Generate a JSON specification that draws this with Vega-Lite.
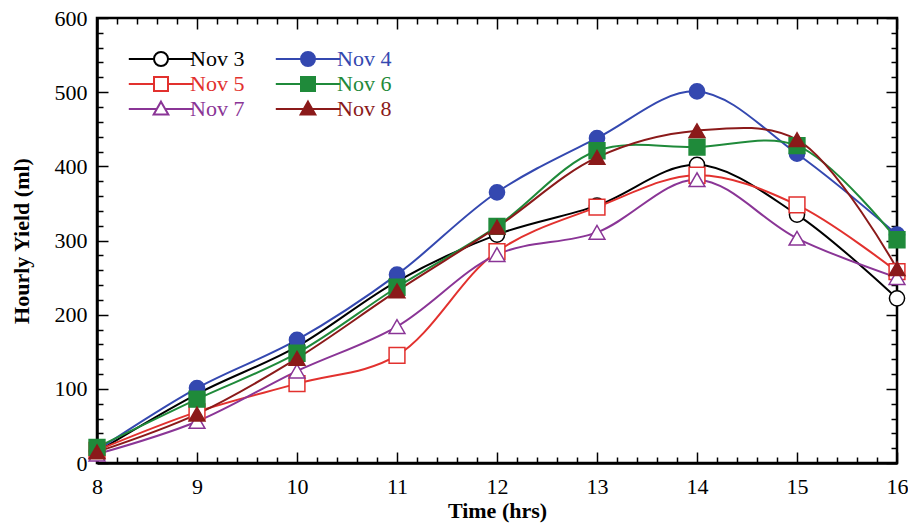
{
  "$schema": "https://vega.github.io/schema/vega-lite/v6.json",
  "width": 800,
  "height": 445,
  "autosize": {"type": "none"},
  "padding": {"left": 97, "top": 18, "right": 11, "bottom": 62},
  "background": "white",
  "config": {
    "view": {"stroke": "black", "strokeWidth": 2.5},
    "font": "Liberation Serif",
    "axis": {"grid": false, "domainColor": "black", "domainWidth": 2.5, "tickColor": "black", "tickWidth": 1.5, "labelFont": "Liberation Serif", "labelFontSize": 22, "labelColor": "black", "titleFont": "Liberation Serif", "titleFontSize": 22, "titleFontWeight": "bold", "titleColor": "black", "labelFlush": false, "labelOverlap": false},
    "legend": {"orient": "none", "direction": "horizontal", "legendX": 53, "legendY": 30, "columns": 2, "symbolSize": 196, "symbolStrokeWidth": 2, "labelFont": "Liberation Serif", "labelFontSize": 22, "labelOffset": 18, "columnPadding": 26, "rowPadding": 2, "gridAlign": "all", "padding": 0}
  },
  "data": {"values": [
    {"t": 8, "y": 15, "s": "Nov 3"}, {"t": 9, "y": 93, "s": "Nov 3"}, {"t": 10, "y": 157, "s": "Nov 3"}, {"t": 11, "y": 245, "s": "Nov 3"}, {"t": 12, "y": 308, "s": "Nov 3"}, {"t": 13, "y": 347, "s": "Nov 3"}, {"t": 14, "y": 402, "s": "Nov 3"}, {"t": 15, "y": 335, "s": "Nov 3"}, {"t": 16, "y": 222, "s": "Nov 3"},
    {"t": 8, "y": 17, "s": "Nov 4"}, {"t": 9, "y": 101, "s": "Nov 4"}, {"t": 10, "y": 166, "s": "Nov 4"}, {"t": 11, "y": 254, "s": "Nov 4"}, {"t": 12, "y": 365, "s": "Nov 4"}, {"t": 13, "y": 438, "s": "Nov 4"}, {"t": 14, "y": 501, "s": "Nov 4"}, {"t": 15, "y": 417, "s": "Nov 4"}, {"t": 16, "y": 308, "s": "Nov 4"},
    {"t": 8, "y": 17, "s": "Nov 5"}, {"t": 9, "y": 69, "s": "Nov 5"}, {"t": 10, "y": 107, "s": "Nov 5"}, {"t": 11, "y": 145, "s": "Nov 5"}, {"t": 12, "y": 285, "s": "Nov 5"}, {"t": 13, "y": 345, "s": "Nov 5"}, {"t": 14, "y": 388, "s": "Nov 5"}, {"t": 15, "y": 348, "s": "Nov 5"}, {"t": 16, "y": 258, "s": "Nov 5"},
    {"t": 8, "y": 21, "s": "Nov 6"}, {"t": 9, "y": 86, "s": "Nov 6"}, {"t": 10, "y": 148, "s": "Nov 6"}, {"t": 11, "y": 237, "s": "Nov 6"}, {"t": 12, "y": 319, "s": "Nov 6"}, {"t": 13, "y": 421, "s": "Nov 6"}, {"t": 14, "y": 426, "s": "Nov 6"}, {"t": 15, "y": 428, "s": "Nov 6"}, {"t": 16, "y": 301, "s": "Nov 6"},
    {"t": 8, "y": 12, "s": "Nov 7"}, {"t": 9, "y": 56, "s": "Nov 7"}, {"t": 10, "y": 124, "s": "Nov 7"}, {"t": 11, "y": 184, "s": "Nov 7"}, {"t": 12, "y": 281, "s": "Nov 7"}, {"t": 13, "y": 311, "s": "Nov 7"}, {"t": 14, "y": 382, "s": "Nov 7"}, {"t": 15, "y": 303, "s": "Nov 7"}, {"t": 16, "y": 250, "s": "Nov 7"},
    {"t": 8, "y": 15, "s": "Nov 8"}, {"t": 9, "y": 66, "s": "Nov 8"}, {"t": 10, "y": 141, "s": "Nov 8"}, {"t": 11, "y": 232, "s": "Nov 8"}, {"t": 12, "y": 318, "s": "Nov 8"}, {"t": 13, "y": 412, "s": "Nov 8"}, {"t": 14, "y": 448, "s": "Nov 8"}, {"t": 15, "y": 436, "s": "Nov 8"}, {"t": 16, "y": 262, "s": "Nov 8"}
  ]},
  "resolve": {"axis": {"x": "independent", "y": "independent"}},
  "layer": [
    {
      "mark": {"type": "line", "interpolate": "catmull-rom", "strokeWidth": 2},
      "encoding": {
        "x": {"field": "t", "type": "quantitative", "scale": {"domain": [8, 16], "nice": false, "zero": false},
          "axis": {"orient": "bottom", "title": "Time (hrs)", "labelOverlap": false, "values": [8, 9, 10, 11, 12, 13, 14, 15, 16],
            "tickSize": -11, "labelPadding": 24, "titlePadding": 3}},
        "y": {"field": "y", "type": "quantitative", "scale": {"domain": [0, 600], "nice": false},
          "axis": {"orient": "left", "title": "Hourly Yield (ml)", "labelOverlap": false, "values": [0, 100, 200, 300, 400, 500, 600],
            "tickSize": -11, "labelPadding": 21, "titlePadding": 21}},
        "stroke": {"field": "s", "type": "nominal",
          "scale": {"domain": ["Nov 3", "Nov 4", "Nov 5", "Nov 6", "Nov 7", "Nov 8"], "range": ["#000000", "#3448b0", "#e2312e", "#1f8a3a", "#8a3596", "#8b1a1a"]},
          "legend": {"title": null,
            "encode": {
              "symbols": {"update": {"shape": {"signal": "indexof(['Nov 3','Nov 4'], datum.value) >= 0 ? 'M-4.6,0H-1M1,0H4.6M-1,0A1,1,0,1,1,1,0A1,1,0,1,1,-1,0Z' : indexof(['Nov 5','Nov 6'], datum.value) >= 0 ? 'M-4.6,0H-1M1,0H4.6M-1,-1H1V1H-1Z' : 'M-4.6,0H-0.55M0.55,0H4.6M0,-1.05L1.05,0.8H-1.05Z'"}, "strokeWidth": {"value": 2}}},
              "labels": {"update": {"fill": {"signal": "scale('stroke', datum.value)"}}}
            }}}
      }
    },
    {
      "transform": [{"filter": {"field": "s", "oneOf": ["Nov 3", "Nov 4"]}}],
      "mark": {"type": "point", "shape": "circle", "filled": false, "size": 230, "strokeWidth": 1.5, "opacity": 1},
      "encoding": {
        "x": {"field": "t", "type": "quantitative",
          "axis": {"orient": "top", "title": null, "labels": false, "domain": false, "values": [8, 9, 10, 11, 12, 13, 14, 15, 16], "tickSize": -11}},
        "y": {"field": "y", "type": "quantitative",
          "axis": {"orient": "right", "title": null, "labels": false, "domain": false, "values": [0, 100, 200, 300, 400, 500, 600], "tickSize": -11}},
        "stroke": {"field": "s", "type": "nominal", "legend": {"title": null}},
        "fill": {"field": "s", "type": "nominal",
          "scale": {"domain": ["Nov 3", "Nov 4", "Nov 5", "Nov 6", "Nov 7", "Nov 8"], "range": ["#ffffff", "#3448b0", "#ffffff", "#1f8a3a", "#ffffff", "#8b1a1a"]},
          "legend": {"title": null}}
      }
    },
    {
      "transform": [{"filter": {"field": "s", "oneOf": ["Nov 5", "Nov 6"]}}],
      "mark": {"type": "point", "shape": "square", "filled": false, "size": 250, "strokeWidth": 1.5, "opacity": 1},
      "encoding": {
        "x": {"field": "t", "type": "quantitative",
          "axis": {"orient": "bottom", "title": null, "labels": false, "domain": false, "tickSize": -6, "values": [8.2, 8.4, 8.6, 8.8, 9.2, 9.4, 9.6, 9.8, 10.2, 10.4, 10.6, 10.8, 11.2, 11.4, 11.6, 11.8, 12.2, 12.4, 12.6, 12.8, 13.2, 13.4, 13.6, 13.8, 14.2, 14.4, 14.6, 14.8, 15.2, 15.4, 15.6, 15.8]}},
        "y": {"field": "y", "type": "quantitative",
          "axis": {"orient": "left", "title": null, "labels": false, "domain": false, "tickSize": -6, "values": [20, 40, 60, 80, 120, 140, 160, 180, 220, 240, 260, 280, 320, 340, 360, 380, 420, 440, 460, 480, 520, 540, 560, 580]}},
        "stroke": {"field": "s", "type": "nominal", "legend": {"title": null}},
        "fill": {"field": "s", "type": "nominal", "legend": {"title": null}}
      }
    },
    {
      "transform": [{"filter": {"field": "s", "oneOf": ["Nov 7", "Nov 8"]}}],
      "mark": {"type": "point", "shape": "triangle-up", "filled": false, "size": 250, "strokeWidth": 1.5, "opacity": 1},
      "encoding": {
        "x": {"field": "t", "type": "quantitative",
          "axis": {"orient": "top", "title": null, "labels": false, "domain": false, "tickSize": -6, "values": [8.2, 8.4, 8.6, 8.8, 9.2, 9.4, 9.6, 9.8, 10.2, 10.4, 10.6, 10.8, 11.2, 11.4, 11.6, 11.8, 12.2, 12.4, 12.6, 12.8, 13.2, 13.4, 13.6, 13.8, 14.2, 14.4, 14.6, 14.8, 15.2, 15.4, 15.6, 15.8]}},
        "y": {"field": "y", "type": "quantitative",
          "axis": {"orient": "right", "title": null, "labels": false, "domain": false, "tickSize": -6, "values": [20, 40, 60, 80, 120, 140, 160, 180, 220, 240, 260, 280, 320, 340, 360, 380, 420, 440, 460, 480, 520, 540, 560, 580]}},
        "stroke": {"field": "s", "type": "nominal", "legend": {"title": null}},
        "fill": {"field": "s", "type": "nominal", "legend": {"title": null}}
      }
    }
  ]
}
